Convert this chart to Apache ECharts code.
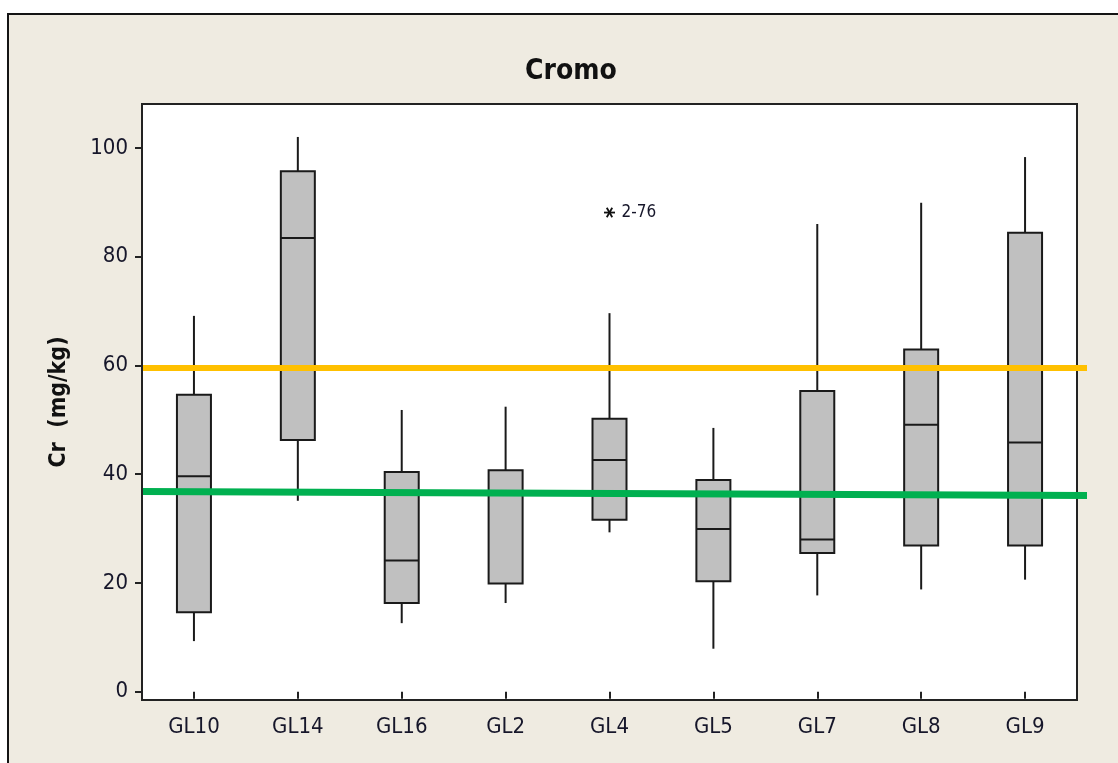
<!DOCTYPE html>
<html>
<head>
<meta charset="utf-8">
<script src="https://cdn.jsdelivr.net/npm/echarts@6/dist/echarts.min.js"></script>
<style>
  html, body { margin: 0; padding: 0; background: #ffffff; overflow: hidden; }
  #frame { position: absolute; left: 7px; top: 13px; width: 1200px; height: 900px;
           border: 2px solid #141414; background: #efebe1; }
  #chart { position: absolute; left: 0; top: 0; width: 1118px; height: 763px; }
</style>
</head>
<body>
<div id="frame"></div>
<div id="chart"></div>
<script>
// Chromium (Cr, mg/kg) per sampling site
const categories  = ['GL10', 'GL14', 'GL16', 'GL2', 'GL4', 'GL5', 'GL7', 'GL8', 'GL9'];
const whiskerLow  = [9.3,  35.1, 12.6, 16.3, 29.3, 7.9,  17.7, 18.8, 20.6];
const quart1      = [14.6, 46.3, 16.3, 19.9, 31.6, 20.3, 25.5, 26.9, 26.9];
const medians     = [39.6, 83.4, 24.1, 36.6, 42.6, 29.9, 28.0, 49.1, 45.8];
const quart3      = [54.6, 95.7, 40.4, 40.7, 50.2, 38.9, 55.3, 62.9, 84.4];
const whiskerHigh = [69.1, 102.0, 51.8, 52.4, 69.6, 48.5, 86.0, 89.9, 98.3];

// Outlier: [category, value, label]
const outliers = [['GL4', 88.1, '2-76']];

// Reference levels drawn across the plot (start, end)
const refOrange = [59.5, 59.5];
const refGreen  = [36.8, 36.05];

const yTicks = [0, 20, 40, 60, 80, 100];
const Y_MIN = -1.53, Y_MAX = 108.06;

const FONT = "'DejaVu Sans Condensed', 'Liberation Sans', sans-serif";
const INK = '#1a1a1a';
const TXT = '#16162a';

const boxData = categories.map((c, i) =>
  [i, whiskerLow[i], quart1[i], medians[i], quart3[i], whiskerHigh[i]]);

const chart = echarts.init(document.getElementById('chart'), null, { renderer: 'canvas' });

const HALF = 17;

chart.setOption({
  backgroundColor: 'transparent',
  animation: false,
  title: {
    text: 'Cromo',
    left: 566, top: 53,
    textAlign: 'center',
    textStyle: { fontFamily: FONT, fontWeight: 'bold', fontSize: 28, color: '#111' }
  },
  grid: [
    { left: 142, right: 41, top: 104, bottom: 63, show: true,
      backgroundColor: '#ffffff', borderColor: '#222', borderWidth: 2 },
    { left: 143, right: 31, top: 104, bottom: 63, show: false }
  ],
  xAxis: [
    { type: 'category', data: categories, gridIndex: 0, boundaryGap: true,
      axisLine: { show: false },
      axisTick: { show: true, alignWithLabel: true, length: 7, lineStyle: { color: '#222', width: 2 } },
      axisLabel: { fontFamily: FONT, fontSize: 22, color: TXT, margin: 16 },
      splitLine: { show: false } },
    { type: 'value', gridIndex: 1, min: 0, max: 1, show: false }
  ],
  yAxis: [
    { type: 'value', gridIndex: 0, min: Y_MIN, max: Y_MAX,
      name: 'Cr  (mg/kg)', nameLocation: 'middle', nameGap: 71, nameRotate: 90,
      nameTextStyle: { fontFamily: FONT, fontWeight: 'bold', fontSize: 23, color: '#111' },
      axisLine: { show: false },
      axisTick: { show: true, length: 7, customValues: yTicks, lineStyle: { color: '#222', width: 2 } },
      axisLabel: { fontFamily: FONT, fontSize: 22, color: TXT, margin: 14, customValues: yTicks },
      splitLine: { show: false } },
    { type: 'value', gridIndex: 1, min: Y_MIN, max: Y_MAX, show: false }
  ],
  series: [
    {
      type: 'custom',
      xAxisIndex: 0, yAxisIndex: 0,
      data: boxData,
      z: 2,
      renderItem: function (params, api) {
        const i = api.value(0);
        const pLow = api.coord([i, api.value(1)]);
        const pQ1 = api.coord([i, api.value(2)]);
        const pMed = api.coord([i, api.value(3)]);
        const pQ3 = api.coord([i, api.value(4)]);
        const pHigh = api.coord([i, api.value(5)]);
        const x = pLow[0];
        const ls = { stroke: INK, lineWidth: 2 };
        return {
          type: 'group',
          children: [
            { type: 'line', shape: { x1: x, y1: pHigh[1], x2: x, y2: pQ3[1] }, style: ls },
            { type: 'line', shape: { x1: x, y1: pQ1[1], x2: x, y2: pLow[1] }, style: ls },
            { type: 'rect', shape: { x: x - HALF, y: pQ3[1], width: HALF * 2, height: pQ1[1] - pQ3[1] },
              style: { fill: '#c0c0c0', stroke: INK, lineWidth: 2 } },
            { type: 'line', shape: { x1: x - HALF, y1: pMed[1], x2: x + HALF, y2: pMed[1] }, style: ls }
          ]
        };
      }
    },
    {
      type: 'custom',
      xAxisIndex: 0, yAxisIndex: 0,
      data: outliers.map(o => [categories.indexOf(o[0]), o[1], o[2]]),
      z: 3,
      renderItem: function (params, api) {
        const p = api.coord([api.value(0), api.value(1)]);
        const r = 5.5;
        const dx = r * Math.cos(Math.PI / 3), dy = r * Math.sin(Math.PI / 3);
        const ls = { stroke: '#111', lineWidth: 1.8 };
        return {
          type: 'group',
          children: [
            { type: 'line', shape: { x1: p[0] - r, y1: p[1], x2: p[0] + r, y2: p[1] }, style: ls },
            { type: 'line', shape: { x1: p[0] - dx, y1: p[1] - dy, x2: p[0] + dx, y2: p[1] + dy }, style: ls },
            { type: 'line', shape: { x1: p[0] + dx, y1: p[1] - dy, x2: p[0] - dx, y2: p[1] + dy }, style: ls },
            { type: 'text', x: p[0] + 12, y: p[1],
              style: { text: outliers[params.dataIndex][2], fill: TXT, fontFamily: FONT, fontSize: 17,
                       verticalAlign: 'middle', align: 'left' } }
          ]
        };
      }
    },
    {
      type: 'line', xAxisIndex: 1, yAxisIndex: 1, z: 5,
      data: [[0, refOrange[0]], [1, refOrange[1]]],
      symbol: 'none', lineStyle: { color: '#ffc000', width: 6 }
    },
    {
      type: 'line', xAxisIndex: 1, yAxisIndex: 1, z: 5,
      data: [[0, refGreen[0]], [1, refGreen[1]]],
      symbol: 'none', lineStyle: { color: '#00b050', width: 7 }
    }
  ]
});
</script>
</body>
</html>
